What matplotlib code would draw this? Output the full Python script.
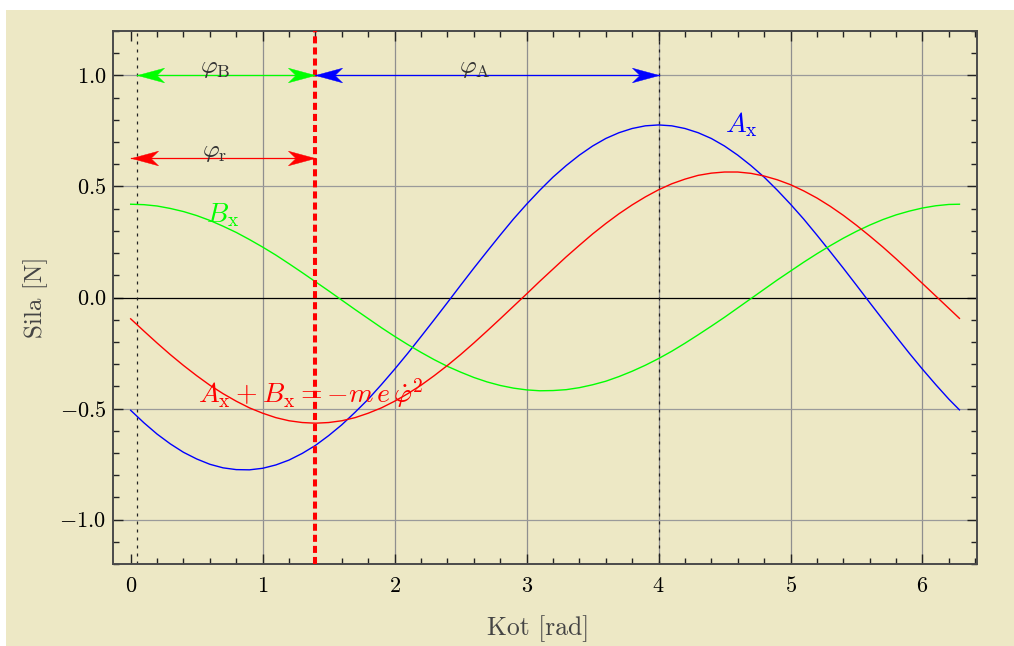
import matplotlib
matplotlib.use('Agg')
import matplotlib.pyplot as plt
from matplotlib.path import Path
from matplotlib.patches import Rectangle
from matplotlib.ticker import FixedLocator, MultipleLocator

# ---------------- data ----------------
x_rad = [0.0, 0.1, 0.2, 0.3, 0.4, 0.5, 0.6, 0.7, 0.8, 0.9,
         1.0, 1.1, 1.2, 1.3, 1.4, 1.5, 1.6, 1.7, 1.8, 1.9,
         2.0, 2.1, 2.2, 2.3, 2.4, 2.5, 2.6, 2.7, 2.8, 2.9,
         3.0, 3.1, 3.2, 3.3, 3.4, 3.5, 3.6, 3.7, 3.8, 3.9,
         4.0, 4.1, 4.2, 4.3, 4.4, 4.5, 4.6, 4.7, 4.8, 4.9,
         5.0, 5.1, 5.2, 5.3, 5.4, 5.5, 5.6, 5.7, 5.8, 5.9,
         6.0, 6.1, 6.2, 6.28]
a_x = [-0.508, -0.564, -0.615, -0.659, -0.697, -0.727, -0.751, -0.767, -0.775, -0.776,
       -0.769, -0.754, -0.732, -0.702, -0.666, -0.622, -0.573, -0.517, -0.458, -0.392,
       -0.323, -0.251, -0.176, -0.100, -0.023, 0.055, 0.132, 0.207, 0.281, 0.353,
       0.420, 0.483, 0.542, 0.594, 0.641, 0.682, 0.716, 0.742, 0.761, 0.773,
       0.777, 0.773, 0.761, 0.742, 0.716, 0.682, 0.641, 0.594, 0.542, 0.483,
       0.420, 0.353, 0.281, 0.207, 0.132, 0.055, -0.023, -0.100, -0.176, -0.251,
       -0.323, -0.392, -0.458, -0.506]
b_x = [0.420, 0.418, 0.412, 0.401, 0.387, 0.369, 0.347, 0.321, 0.293, 0.261,
       0.227, 0.191, 0.152, 0.112, 0.071, 0.030, -0.012, -0.054, -0.095, -0.136,
       -0.175, -0.212, -0.247, -0.280, -0.310, -0.336, -0.360, -0.380, -0.396, -0.408,
       -0.416, -0.420, -0.419, -0.415, -0.406, -0.393, -0.377, -0.356, -0.332, -0.305,
       -0.275, -0.242, -0.206, -0.168, -0.129, -0.089, -0.047, -0.005, 0.037, 0.079,
       0.119, 0.159, 0.197, 0.233, 0.267, 0.298, 0.326, 0.351, 0.372, 0.389,
       0.403, 0.413, 0.419, 0.420]
sum_ab = [-0.096, -0.151, -0.205, -0.257, -0.306, -0.352, -0.395, -0.433, -0.467, -0.497,
          -0.521, -0.541, -0.555, -0.563, -0.566, -0.563, -0.555, -0.541, -0.521, -0.497,
          -0.467, -0.433, -0.395, -0.352, -0.306, -0.257, -0.205, -0.151, -0.096, -0.040,
          0.016, 0.073, 0.128, 0.183, 0.235, 0.286, 0.333, 0.377, 0.417, 0.453,
          0.485, 0.512, 0.533, 0.550, 0.560, 0.565, 0.565, 0.559, 0.547, 0.530,
          0.508, 0.480, 0.448, 0.411, 0.370, 0.325, 0.277, 0.227, 0.174, 0.119,
          0.063, 0.007, -0.049, -0.094]

phi_r_start = 0.0      # start of phi_r arrow
phi_b_start = 0.045    # dotted line / start of phi_B arrow
phi_crank = 1.4        # thick red dashed line
phi_a_end = 4.0        # dotted line / end of phi_A arrow
level_top = 1.0
level_r = 0.63

x_ticks = [0, 1, 2, 3, 4, 5, 6]
x_tick_labels = ['$0$', '$1$', '$2$', '$3$', '$4$', '$5$', '$6$']
y_ticks = [-1.0, -0.5, 0.0, 0.5, 1.0]
y_tick_labels = [r'$-1.0$', r'$-0.5$', r'$0.0$', r'$0.5$', r'$1.0$']
x_grid = [1, 2, 3, 4, 5, 6]
y_grid = [-1.0, -0.5, 0.5, 1.0]

# ---------------- style ----------------
plt.rcParams['font.family'] = ['cmr10', 'DejaVu Serif']
plt.rcParams['mathtext.fontset'] = 'cm'
plt.rcParams['axes.formatter.use_mathtext'] = True

BG = '#EDE8C5'
W, H = 1014, 646
fig = plt.figure(figsize=(W / 100, H / 100), dpi=100)
fig.patch.set_facecolor('white')
fig.patches.append(Rectangle((6 / W, 0), 1 - 6 / W, (H - 10) / H,
                             transform=fig.transFigure, facecolor=BG,
                             edgecolor='none', zorder=-10))

ax = fig.add_axes([113 / W, 1 - 564 / H, (977 - 113) / W, (564 - 31) / H])
ax.set_facecolor(BG)
ax.set_xlim(-0.134, 6.413)
ax.set_ylim(-1.2, 1.2)

for s in ax.spines.values():
    s.set_color('#4a4a4a')
    s.set_linewidth(1.4)

ax.xaxis.set_major_locator(FixedLocator(x_ticks))
ax.set_xticklabels(x_tick_labels)
ax.yaxis.set_major_locator(FixedLocator(y_ticks))
ax.set_yticklabels(y_tick_labels)
ax.xaxis.set_minor_locator(MultipleLocator(0.2))
ax.yaxis.set_minor_locator(MultipleLocator(0.1))
ax.tick_params(which='both', direction='in', top=True, right=True,
               color='#222222', width=1.0, labelsize=16)
ax.tick_params(which='major', length=7.2)
ax.tick_params(which='minor', length=4.2)
ax.tick_params(axis='x', pad=9)
ax.tick_params(axis='y', pad=5)

for g in x_grid:
    ax.axvline(g, color='#8f8f8f', lw=0.9, zorder=1)
for g in y_grid:
    ax.axhline(g, color='#9a9a9a', lw=0.9, zorder=1)
ax.axhline(0.0, color='black', lw=0.9, zorder=2)

# dotted verticals
for xv in (phi_b_start, phi_a_end):
    ax.axvline(xv, color='#222222', lw=0.9, ls=(0, (2.4, 4.0)), zorder=2)

# curves
ax.plot(x_rad, a_x, color='#0000FF', lw=1.0, zorder=3)
ax.plot(x_rad, b_x, color='#00FF00', lw=1.0, zorder=3)
ax.plot(x_rad, sum_ab, color='#FF0000', lw=1.0, zorder=3)

# thick red dashed line
ax.axvline(phi_crank, color='#FF0000', lw=2.9, ls=(0, (1.75, 1.0)), zorder=5)

# arrow heads (stealth shape)
codes = [Path.MOVETO, Path.LINETO, Path.LINETO, Path.LINETO, Path.CLOSEPOLY]
head_right = Path([(0, 0), (-1, 0.27), (-0.72, 0), (-1, -0.27), (0, 0)], codes)
head_left = Path([(0, 0), (1, 0.27), (0.72, 0), (1, -0.27), (0, 0)], codes)


def dbl_arrow(x0, x1, y, color):
    ax.plot([x0, x1], [y, y], color=color, lw=0.9, zorder=6)
    ax.plot([x0], [y], marker=head_left, ms=39, color=color, mec=color,
            mew=0.3, zorder=7, ls='none')
    ax.plot([x1], [y], marker=head_right, ms=39, color=color, mec=color,
            mew=0.3, zorder=7, ls='none')


dbl_arrow(phi_b_start, phi_crank, level_top, '#00FF00')
dbl_arrow(phi_crank, phi_a_end, level_top, '#0000FF')
dbl_arrow(phi_r_start, phi_crank, level_r, '#FF0000')

# labels
ax.text(0.525, 1.012, r'$\varphi_\mathrm{B}$', fontsize=18.5, color='#333333',
        ha='left', va='baseline', zorder=8)
ax.text(2.49, 1.012, r'$\varphi_\mathrm{A}$', fontsize=18.5, color='#333333',
        ha='left', va='baseline', zorder=8)
ax.text(0.538, 0.634, r'$\varphi_\mathrm{r}$', fontsize=18.5, color='#333333',
        ha='left', va='baseline', zorder=8)
ax.text(4.505, 0.745, r'$A_\mathrm{x}$', fontsize=20, color='#0000FF',
        ha='left', va='baseline', zorder=8)
ax.text(0.572, 0.34, r'$B_\mathrm{x}$', fontsize=20, color='#00FF00',
        ha='left', va='baseline', zorder=8)
ax.text(0.51, -0.473, r'$A_\mathrm{x}+B_\mathrm{x}=-m\,e\,\dot{\varphi}^2$',
        fontsize=20, color='#FF0000', ha='left', va='baseline', zorder=4)

ax.set_xlabel('Kot [rad]', fontsize=18.5, color='#444444', labelpad=13)
ax.set_ylabel('Sila [N]', fontsize=18, color='#444444', labelpad=8)
ax.xaxis.set_label_coords(0.4925, -0.097)

fig.savefig('out.png', dpi=100, facecolor=fig.get_facecolor())
